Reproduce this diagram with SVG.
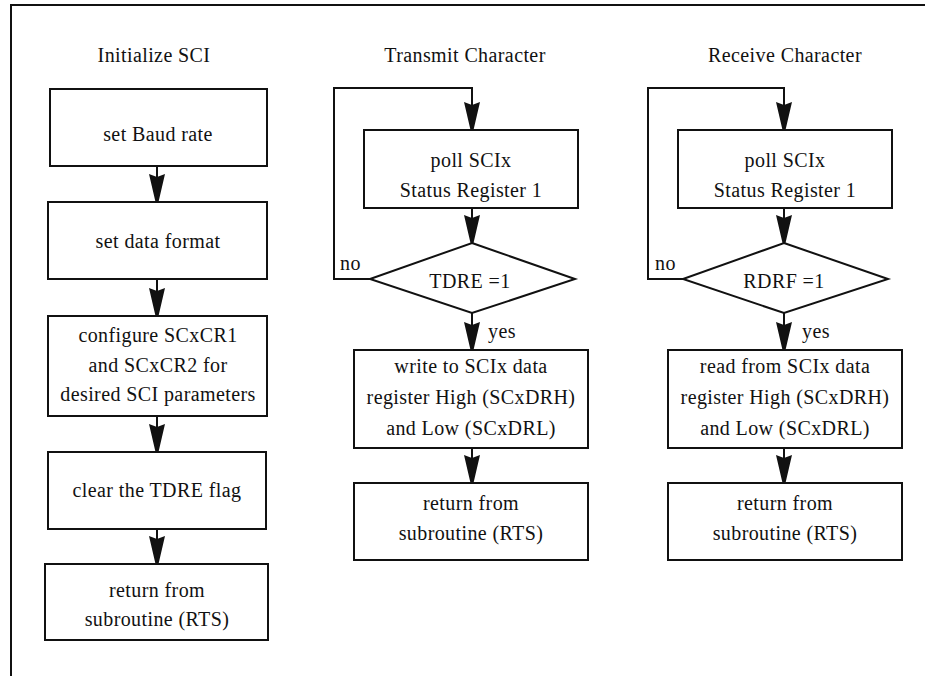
<svg xmlns="http://www.w3.org/2000/svg" width="925" height="676" viewBox="0 0 925 676">
<style>
  .box { fill: #fff; stroke: #111; stroke-width: 2; }
  .ln { fill: none; stroke: #111; stroke-width: 2; }
  .arr { fill: none; stroke: #111; stroke-width: 2; marker-end: url(#ah); }
  text { font-family: "Liberation Serif", "Times New Roman", serif; font-size: 20px; letter-spacing: 0.4px; fill: #111; }
  .c { text-anchor: middle; }
</style>
<defs>
  <marker id="ah" markerUnits="userSpaceOnUse" markerWidth="30" markerHeight="18" refX="28" refY="8" orient="auto">
    <path d="M0,0 L28,6.5 L28,9.5 L0,16 L3,8 z" fill="#111"/>
  </marker>
</defs>
<rect x="0" y="0" width="925" height="676" fill="#fff"/>
<path class="ln" d="M11,676 V5 H925"/>

<g id="titles">
  <text class="c" x="154" y="62">Initialize SCI</text>
  <text class="c" x="465" y="62">Transmit Character</text>
  <text class="c" x="785" y="62">Receive Character</text>
</g>

<g id="connectors">
  <line class="arr" x1="157" y1="166" x2="157" y2="202"/>
  <line class="arr" x1="157" y1="279" x2="157" y2="316"/>
  <line class="arr" x1="157" y1="416" x2="157" y2="452"/>
  <line class="arr" x1="157" y1="529" x2="157" y2="564"/>

  <polyline class="arr" points="370,279 334,279 334,88 472,88 472,130"/>
  <line class="arr" x1="472" y1="208" x2="472" y2="243"/>
  <line class="arr" x1="472" y1="313" x2="472" y2="350"/>
  <line class="arr" x1="472" y1="448" x2="472" y2="483"/>
  <text x="340" y="270">no</text>
  <text x="488" y="338">yes</text>

  <polyline class="arr" points="683,279 648,279 648,88 784,88 784,130"/>
  <line class="arr" x1="784" y1="208" x2="784" y2="243"/>
  <line class="arr" x1="784" y1="313" x2="784" y2="350"/>
  <line class="arr" x1="784" y1="448" x2="784" y2="483"/>
  <text x="655" y="270">no</text>
  <text x="802" y="338">yes</text>
</g>

<g id="init-baud">
  <rect class="box" x="50" y="89" width="217" height="77"/>
  <text class="c" x="158" y="141">set Baud rate</text>
</g>
<g id="init-format">
  <rect class="box" x="48" y="202" width="219" height="77"/>
  <text class="c" x="158" y="248">set data format</text>
</g>
<g id="init-config">
  <rect class="box" x="48" y="316" width="219" height="100"/>
  <text class="c" x="158" y="342">configure SCxCR1</text>
  <text class="c" x="158" y="372">and SCxCR2 for</text>
  <text class="c" x="158" y="401">desired SCI parameters</text>
</g>
<g id="init-clear">
  <rect class="box" x="48" y="452" width="218" height="77"/>
  <text class="c" x="157" y="497">clear the TDRE flag</text>
</g>
<g id="init-rts">
  <rect class="box" x="45" y="564" width="223" height="76"/>
  <text class="c" x="157" y="597">return from</text>
  <text class="c" x="157" y="626">subroutine (RTS)</text>
</g>

<g id="tx-poll">
  <rect class="box" x="364" y="130" width="214" height="78"/>
  <text class="c" x="471" y="167">poll SCIx</text>
  <text class="c" x="471" y="197">Status Register 1</text>
</g>
<g id="tx-test">
  <polygon class="box" points="472,243 575,279 472,313 370,279"/>
  <text class="c" x="470" y="288">TDRE =1</text>
</g>
<g id="tx-write">
  <rect class="box" x="354" y="350" width="234" height="98"/>
  <text class="c" x="471" y="373">write to SCIx data</text>
  <text class="c" x="471" y="404">register High (SCxDRH)</text>
  <text class="c" x="471" y="435">and Low (SCxDRL)</text>
</g>
<g id="tx-rts">
  <rect class="box" x="354" y="483" width="234" height="77"/>
  <text class="c" x="471" y="510">return from</text>
  <text class="c" x="471" y="540">subroutine (RTS)</text>
</g>

<g id="rx-poll">
  <rect class="box" x="678" y="130" width="214" height="78"/>
  <text class="c" x="785" y="167">poll SCIx</text>
  <text class="c" x="785" y="197">Status Register 1</text>
</g>
<g id="rx-test">
  <polygon class="box" points="784,243 888,279 784,313 683,279"/>
  <text class="c" x="784" y="288">RDRF =1</text>
</g>
<g id="rx-read">
  <rect class="box" x="668" y="350" width="234" height="98"/>
  <text class="c" x="785" y="373">read from SCIx data</text>
  <text class="c" x="785" y="404">register High (SCxDRH)</text>
  <text class="c" x="785" y="435">and Low (SCxDRL)</text>
</g>
<g id="rx-rts">
  <rect class="box" x="668" y="483" width="234" height="77"/>
  <text class="c" x="785" y="510">return from</text>
  <text class="c" x="785" y="540">subroutine (RTS)</text>
</g>
</svg>
